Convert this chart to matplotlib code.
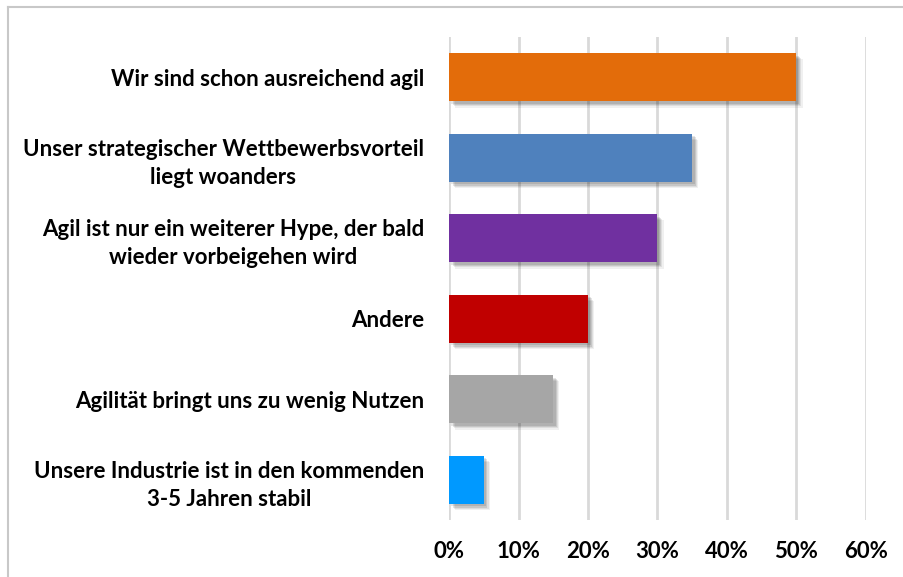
import matplotlib
matplotlib.use("Agg")
import matplotlib.pyplot as plt
import matplotlib.patheffects as pe
from matplotlib.lines import Line2D

# data
categories = [
    "Wir sind schon ausreichend agil",
    "Unser strategischer Wettbewerbsvorteil\nliegt woanders",
    "Agil ist nur ein weiterer Hype, der bald\nwieder vorbeigehen wird",
    "Andere",
    "Agilität bringt uns zu wenig Nutzen",
    "Unsere Industrie ist in den kommenden\n3-5 Jahren stabil",
]
values = [50, 35, 30, 20, 15, 5]
colors = ["#E36C0A", "#4F81BD", "#7030A0", "#C00000", "#A6A6A6", "#0099FF"]
xticks = [0, 10, 20, 30, 40, 50, 60]

plt.rcParams['font.family'] = ['Lato', 'DejaVu Sans']

W, H = 904, 577
fig = plt.figure(figsize=(W / 100, H / 100), dpi=100)
ax = fig.add_axes([449 / W, (H - 520) / H, (866 - 449) / W, (520 - 37) / H])

ypos = list(range(len(categories)))
# fake soft shadow with a few stacked offsets
shadow = [
    pe.SimplePatchShadow(offset=(o, -o), shadow_rgbFace="black", alpha=a)
    for o, a in [(4.5, 0.06), (3.6, 0.08), (2.7, 0.10), (1.8, 0.10)]
]
bars = ax.barh(ypos, values, height=0.6, color=colors, zorder=3)
for b in bars:
    b.set_path_effects(shadow + [pe.Normal()])

ax.set_ylim(len(categories) - 0.5, -0.5)
ax.set_xlim(0, 60)
ax.set_xticks(xticks)
ax.set_xticklabels([f"{t}%" for t in xticks])
ax.set_yticks(ypos)
ax.set_yticklabels(categories, multialignment="center", linespacing=1.4)

ax.grid(axis="x", color="#D9D9D9", linewidth=2, zorder=0)
ax.set_axisbelow(True)
for s in ax.spines.values():
    s.set_visible(False)
ax.tick_params(axis="both", length=0, labelsize=16)
ax.tick_params(axis="y", pad=18)
ax.tick_params(axis="x", pad=15)
for lbl in ax.get_xticklabels() + ax.get_yticklabels():
    lbl.set_fontweight("bold")

# outer chart frame (only top and left visible in the crop)
fig.add_artist(Line2D([8 / W, 1], [1 - 7 / H, 1 - 7 / H], color="#C8C8C8", lw=1.5))
fig.add_artist(Line2D([8 / W, 8 / W], [0, 1 - 7 / H], color="#C8C8C8", lw=1.5))

fig.savefig("out.png", dpi=100)
